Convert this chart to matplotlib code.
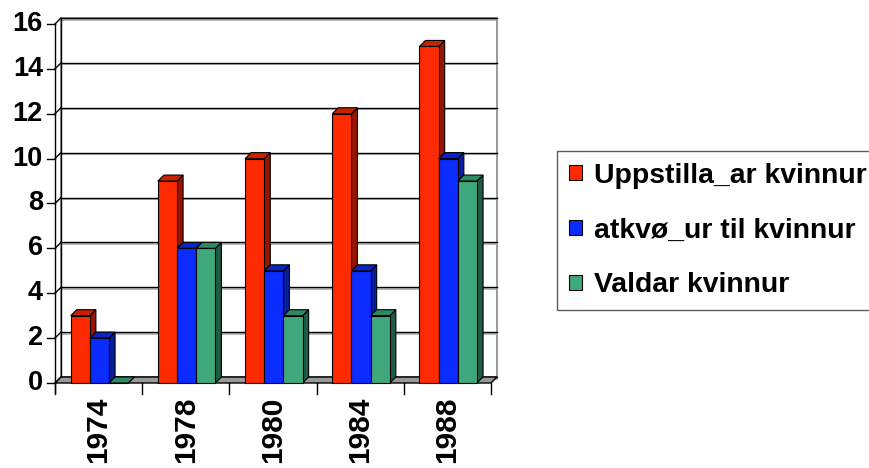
import numpy as np
import matplotlib.pyplot as plt
from matplotlib.patches import Polygon, Rectangle, Patch

plt.rcParams['font.family'] = ['Liberation Sans', 'DejaVu Sans']
plt.rcParams['font.weight'] = 'bold'

years = ['1974', '1978', '1980', '1984', '1988']
series_names = ['Uppstilla_ar kvinnur', 'atkvø_ur til kvinnur', 'Valdar kvinnur']
uppstillad = [3, 9, 10, 12, 15]
atkvodur = [2, 6, 5, 5, 10]
valdar = [0, 6, 3, 3, 9]
values = [uppstillad, atkvodur, valdar]

front_cols = ['#ff2a00', '#0a2cff', '#3ea77b']
side_cols = ['#961400', '#0a1e9c', '#1f5c44']
top_cols = ['#c82200', '#0a24c8', '#2e8a62']
yticks = [0, 2, 4, 6, 8, 10, 12, 14, 16]

fig = plt.figure(figsize=(8.69, 4.68), dpi=100)
ax = fig.add_axes([55 / 869, 85 / 468, 436 / 869, 359 / 468])
ax.set_xlim(0, len(years))
ax.set_ylim(0, 16)
ax.axis('off')

# depth of the fake 3d view, in data units
dx = 6 / 87.2
dy = 6 / 22.44
n = len(years)

# back wall + gridlines
ax.add_patch(Rectangle((dx, dy), n, 16, fc='white', ec='#888888', lw=1.2, clip_on=False, zorder=0))
for v in yticks:
    ax.plot([dx, n + dx], [v + dy - 0.07, v + dy - 0.07], color='#aaaaaa', lw=1.2, clip_on=False, zorder=1)
    ax.plot([dx, n + dx], [v + dy, v + dy], color='black', lw=1.0, clip_on=False, zorder=1)
    # left wall slant
    ax.plot([0, dx], [v, v + dy], color='black', lw=1.0, clip_on=False, zorder=1)
    # tick mark
    ax.plot([-8 / 87.2, 0], [v, v], color='black', lw=1.0, clip_on=False, zorder=1)
    ax.text(-12 / 87.2, v, str(v), ha='right', va='center', fontsize=19.5, fontweight='bold')

# left wall
ax.plot([0, 0], [-0.45, 16], color='black', lw=1.0, clip_on=False, zorder=2)
ax.plot([dx, dx], [dy, 16 + dy], color='black', lw=1.0, clip_on=False, zorder=1)

# floor
ax.add_patch(Polygon([(0, 0), (n, 0), (n + dx, dy), (dx, dy)], closed=True,
                     fc='#999999', ec='black', lw=1.0, clip_on=False, zorder=1))
for j in range(n + 1):
    ax.plot([j, j], [-0.5, 0], color='black', lw=1.0, clip_on=False, zorder=1)

# bars
w = 0.22
start = 0.18
for j in range(n):
    for i, vals in enumerate(values):
        x0 = j + start + i * w
        h = vals[j]
        z = 3 + j * 3 + i
        side = Polygon([(x0 + w, 0), (x0 + w + dx, dy), (x0 + w + dx, h + dy), (x0 + w, h)],
                       closed=True, fc=side_cols[i], ec='black', lw=0.8, zorder=z, clip_on=False)
        top = Polygon([(x0, h), (x0 + w, h), (x0 + w + dx, h + dy), (x0 + dx, h + dy)],
                      closed=True, fc=top_cols[i], ec='black', lw=0.8, zorder=z, clip_on=False)
        ax.add_patch(side)
        ax.add_patch(top)
        ax.add_patch(Rectangle((x0, 0), w, h, fc=front_cols[i], ec='black', lw=0.8, zorder=z, clip_on=False))

# category labels
for j, yr in enumerate(years):
    ax.text(j + 0.5, -0.6, yr, rotation=90, ha='center', va='top', fontsize=21.5, fontweight='bold')

handles = [Patch(fc=front_cols[i], ec='black', lw=0.8) for i in range(3)]
leg = fig.legend(handles, series_names, loc='center left', bbox_to_anchor=(557 / 869, 1 - 230.5 / 468),
                 frameon=True, fancybox=False, prop={'weight': 'bold', 'size': 20.4},
                 handlelength=0.47, handleheight=0.47, handletextpad=0.4, labelspacing=1.02,
                 borderpad=0.42, borderaxespad=0)
leg.get_frame().set_edgecolor('#333333')
leg.get_frame().set_linewidth(1.0)

fig.savefig('out.png', dpi=100)
